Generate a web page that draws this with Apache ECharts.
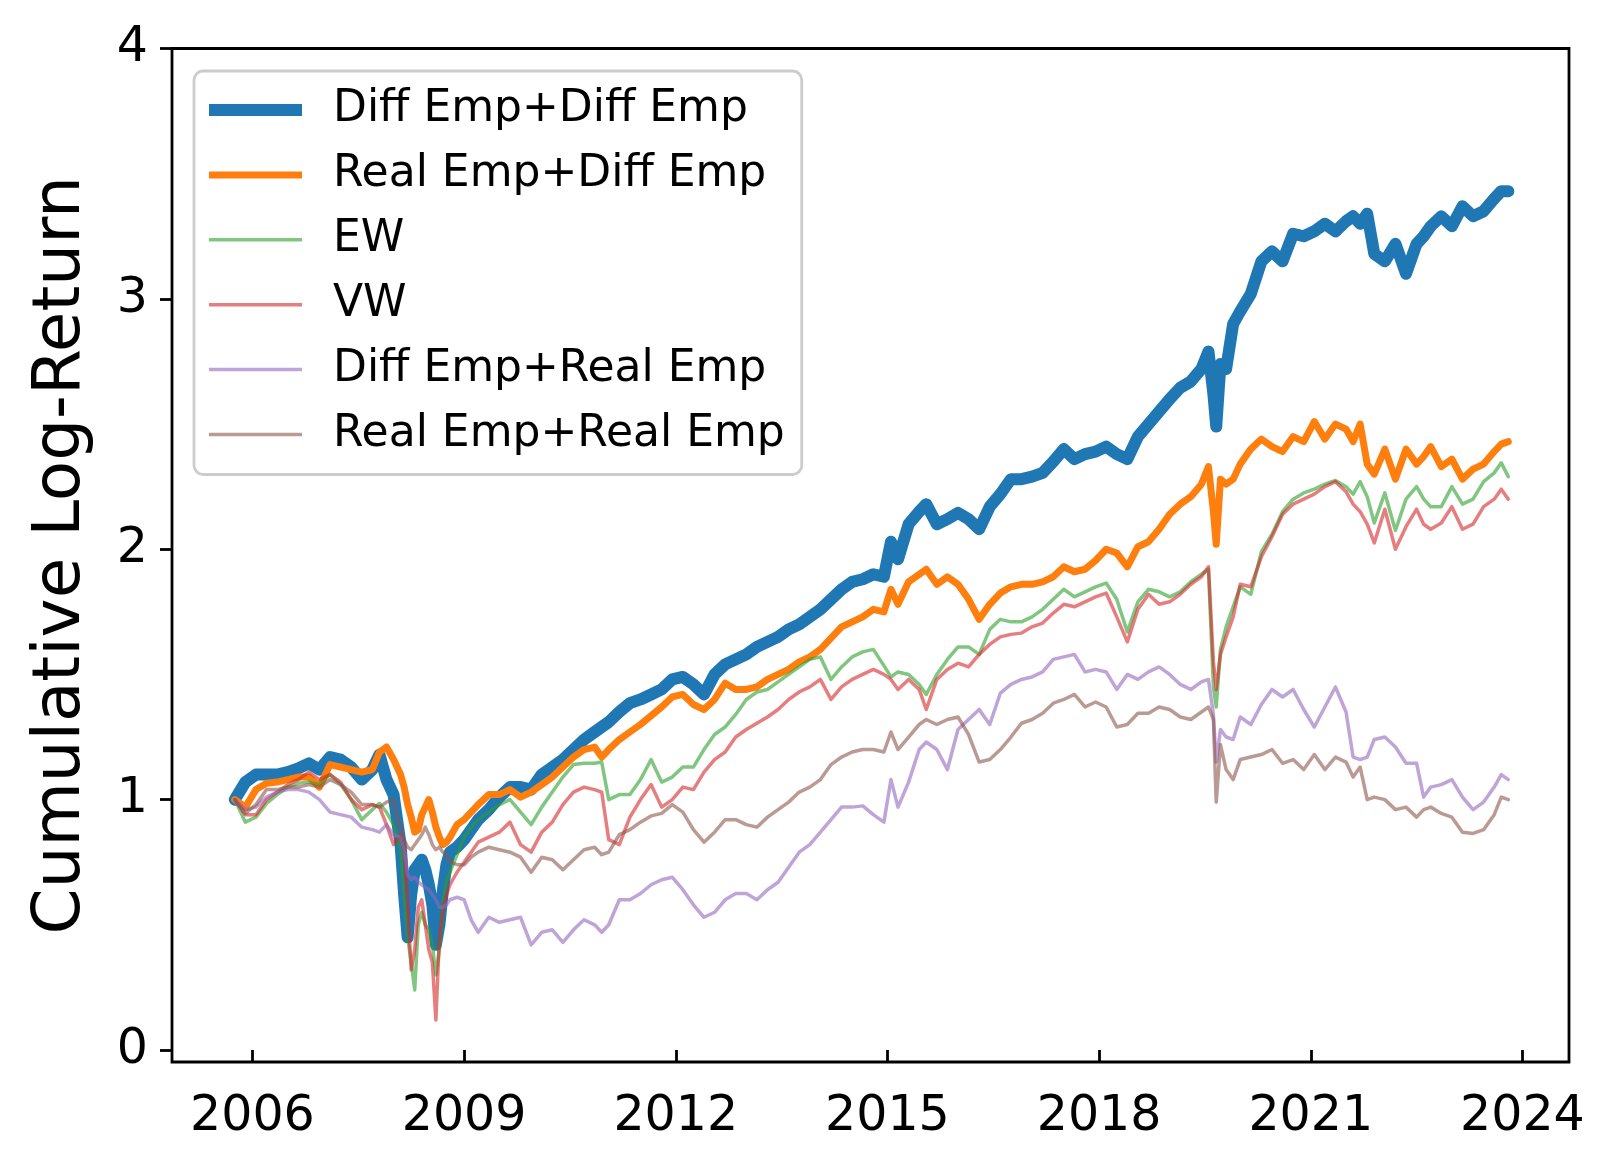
<!DOCTYPE html>
<html>
<head>
<meta charset="utf-8">
<script src="https://cdn.jsdelivr.net/npm/echarts@6/dist/echarts.min.js"></script>
<style>
html,body{margin:0;padding:0;background:#fff;}
#chart{width:1616px;height:1170px;}
</style>
</head>
<body>
<div id="chart"></div>
<script>
// Decimal-year sample dates (shared by all series)
const dates = [
  2005.75, 2005.9, 2006.05, 2006.2, 2006.35, 2006.5, 2006.65, 2006.8, 2006.95, 2007.1,
  2007.25, 2007.4, 2007.55, 2007.7, 2007.8, 2007.9, 2008.0, 2008.1, 2008.15, 2008.2,
  2008.25, 2008.3, 2008.35, 2008.4, 2008.45, 2008.5, 2008.55, 2008.6, 2008.65, 2008.7,
  2008.75, 2008.8, 2008.9, 2009.0, 2009.1, 2009.2, 2009.35, 2009.5, 2009.65, 2009.8, 2009.95,
  2010.1, 2010.25, 2010.4, 2010.55, 2010.7, 2010.85, 2010.95, 2011.05, 2011.2, 2011.35,
  2011.5, 2011.65, 2011.8, 2011.95, 2012.1, 2012.25, 2012.4, 2012.55, 2012.7, 2012.85,
  2013.0, 2013.15, 2013.3, 2013.45, 2013.6, 2013.75, 2013.9, 2014.05, 2014.2, 2014.35,
  2014.5, 2014.65, 2014.8, 2014.95,
  2015.05, 2015.15, 2015.3, 2015.45, 2015.55, 2015.7, 2015.85, 2016.0, 2016.15, 2016.3,
  2016.45, 2016.6, 2016.75, 2016.9, 2017.05, 2017.2, 2017.35, 2017.5, 2017.65, 2017.8,
  2017.95, 2018.1, 2018.25, 2018.4, 2018.55, 2018.7, 2018.85, 2019.0, 2019.15, 2019.3, 2019.45,
  2019.55, 2019.62, 2019.66, 2019.72, 2019.8, 2019.9, 2020.0, 2020.15, 2020.3, 2020.45,
  2020.6, 2020.75, 2020.9, 2021.05, 2021.2, 2021.35, 2021.5, 2021.6, 2021.7, 2021.8,
  2021.9, 2022.05, 2022.2, 2022.35, 2022.5, 2022.6, 2022.7, 2022.85, 2023.0, 2023.15,
  2023.3, 2023.45, 2023.6, 2023.7, 2023.8
];

const diffDiff = [
  1.0, 1.07, 1.10, 1.10, 1.10, 1.11, 1.125, 1.145, 1.12, 1.17, 1.16, 1.13, 1.08, 1.12, 1.18, 1.08, 1.02, 0.82, 0.62, 0.45, 0.62, 0.72, 0.74, 0.76, 0.72, 0.66, 0.58, 0.42, 0.50, 0.64, 0.74, 0.79, 0.81, 0.84, 0.88, 0.92, 0.96, 1.01, 1.05, 1.05, 1.04,
  1.10, 1.13, 1.16, 1.20, 1.24, 1.27, 1.29, 1.31, 1.35, 1.385, 1.40, 1.42, 1.44, 1.48, 1.49, 1.46, 1.42, 1.50, 1.54, 1.56, 1.58, 1.61, 1.63, 1.65, 1.68, 1.70, 1.73, 1.76, 1.80, 1.84, 1.87, 1.88, 1.90, 1.89,
  2.03, 1.96, 2.10, 2.15, 2.18, 2.10, 2.12, 2.145, 2.12, 2.08, 2.17, 2.22, 2.28, 2.28, 2.29, 2.305, 2.35, 2.40, 2.36, 2.38, 2.39, 2.41, 2.38, 2.36, 2.45, 2.50, 2.55, 2.60, 2.645, 2.67, 2.72,
  2.79, 2.62, 2.49, 2.74, 2.72, 2.90, 2.95, 3.02, 3.15, 3.19, 3.15, 3.26, 3.25, 3.27, 3.30, 3.27, 3.31, 3.33, 3.30, 3.34, 3.18, 3.15, 3.22, 3.10, 3.22, 3.25, 3.29, 3.33, 3.29, 3.37, 3.33, 3.35, 3.40, 3.43, 3.43
];

const realDiff = [
  1.0, 0.97, 1.04, 1.065, 1.07, 1.08, 1.09, 1.09, 1.05, 1.14, 1.13, 1.12, 1.11, 1.12, 1.19, 1.21, 1.16, 1.10, 1.05, 0.98, 0.93, 0.87, 0.88, 0.94, 0.97, 1.0, 0.95, 0.89, 0.85, 0.82, 0.83, 0.85, 0.90, 0.92, 0.95, 0.98, 1.02, 1.02, 1.04, 1.01, 1.03,
  1.06, 1.09, 1.13, 1.17, 1.20, 1.21, 1.17, 1.20, 1.24, 1.27, 1.30, 1.335, 1.37, 1.41, 1.42, 1.38, 1.36, 1.40, 1.465, 1.44, 1.44, 1.45, 1.48, 1.50, 1.52, 1.55, 1.57, 1.60, 1.645, 1.69, 1.71, 1.73, 1.76, 1.75,
  1.84, 1.78, 1.87, 1.90, 1.92, 1.86, 1.89, 1.86, 1.80, 1.72, 1.78, 1.825, 1.85, 1.86, 1.86, 1.87, 1.89, 1.93, 1.91, 1.92, 1.955, 2.0, 1.985, 1.93, 2.01, 2.03, 2.08, 2.14, 2.18, 2.21, 2.26,
  2.33, 2.15, 2.02, 2.28, 2.26, 2.28, 2.34, 2.40, 2.44, 2.41, 2.39, 2.45, 2.43, 2.51, 2.44, 2.50, 2.48, 2.43, 2.50, 2.34, 2.30, 2.40, 2.28, 2.40, 2.34, 2.37, 2.41, 2.33, 2.36, 2.28, 2.32, 2.34, 2.39, 2.42, 2.43
];

const ew = [
  1.0, 0.91, 0.93, 0.985, 1.02, 1.05, 1.065, 1.07, 1.06, 1.10, 1.06, 1.00, 0.92, 0.96, 0.985, 0.95, 0.90, 0.80, 0.62, 0.45, 0.35, 0.24, 0.50, 0.55, 0.50, 0.48, 0.42, 0.30, 0.40, 0.58, 0.68, 0.71, 0.78, 0.85, 0.89, 0.92, 0.95, 0.98, 1.0, 0.95, 0.90,
  0.97, 1.03, 1.09, 1.14, 1.145, 1.145, 1.15, 1.0, 1.02, 1.02, 1.08, 1.16, 1.07, 1.09, 1.13, 1.13, 1.20, 1.26, 1.29, 1.34, 1.40, 1.43, 1.44, 1.47, 1.50, 1.53, 1.56, 1.57, 1.48, 1.53, 1.57, 1.59, 1.60, 1.535,
  1.49, 1.51, 1.50, 1.46, 1.42, 1.50, 1.56, 1.61, 1.61, 1.58, 1.68, 1.72, 1.71, 1.71, 1.73, 1.76, 1.80, 1.84, 1.81, 1.83, 1.85, 1.865, 1.80, 1.67, 1.79, 1.84, 1.83, 1.81, 1.83, 1.87, 1.90,
  1.92, 1.45, 1.37, 1.60, 1.69, 1.77, 1.85, 1.82, 1.99, 2.06, 2.15, 2.20, 2.225, 2.24, 2.26, 2.275, 2.25, 2.22, 2.27, 2.21, 2.105, 2.225, 2.075, 2.20, 2.25, 2.20, 2.17, 2.17, 2.25, 2.18, 2.20, 2.27, 2.305, 2.345, 2.29
];

const vw = [
  1.0, 0.94, 0.94, 1.0, 1.03, 1.06, 1.08, 1.11, 1.08, 1.10, 1.07, 1.0, 0.96, 0.98, 0.97, 0.90, 0.82, 0.86, 0.80, 0.58, 0.32, 0.40, 0.57, 0.60, 0.50, 0.40, 0.35, 0.12, 0.45, 0.56, 0.62, 0.66, 0.71, 0.75, 0.79, 0.83, 0.85, 0.87, 0.91, 0.82, 0.79,
  0.87, 0.91, 0.98, 1.03, 1.05, 1.04, 1.03, 0.84, 0.82, 0.93, 1.0, 1.06, 0.97, 1.0, 1.05, 1.04, 1.11, 1.16, 1.19, 1.25, 1.28, 1.305, 1.33, 1.36, 1.40, 1.43, 1.45, 1.48, 1.40, 1.45, 1.48, 1.50, 1.52, 1.50,
  1.48, 1.44, 1.48, 1.44, 1.36, 1.48, 1.52, 1.545, 1.53, 1.58, 1.62, 1.65, 1.66, 1.665, 1.69, 1.705, 1.745, 1.78, 1.77, 1.79, 1.81, 1.825, 1.73, 1.63, 1.76, 1.82, 1.78, 1.79, 1.82, 1.86, 1.89,
  1.93, 1.55, 1.44, 1.58, 1.65, 1.73, 1.86, 1.85, 1.97, 2.05, 2.14, 2.18, 2.20, 2.22, 2.25, 2.27, 2.23, 2.18, 2.15, 2.10, 2.025, 2.16, 2.0, 2.09, 2.16, 2.10, 2.08, 2.105, 2.17, 2.08, 2.10, 2.17, 2.20, 2.24, 2.20
];

const diffReal = [
  1.0, 0.96, 0.97, 1.01, 1.03, 1.04, 1.04, 1.03, 1.0, 0.95, 0.94, 0.93, 0.89, 0.88, 0.87, 0.90, 0.86, 0.85, 0.80, 0.70, 0.68, 0.69, 0.67, 0.66, 0.65, 0.64, 0.62, 0.60, 0.57, 0.57, 0.58, 0.60, 0.61, 0.60, 0.52, 0.47, 0.53, 0.51, 0.52, 0.53, 0.42,
  0.47, 0.48, 0.43, 0.48, 0.52, 0.50, 0.47, 0.50, 0.60, 0.60, 0.625, 0.66, 0.68, 0.69, 0.64, 0.58, 0.53, 0.55, 0.60, 0.625, 0.625, 0.60, 0.64, 0.67, 0.73, 0.79, 0.82, 0.87, 0.92, 0.97, 0.97, 0.975, 0.94, 0.91,
  1.08, 0.97, 1.07, 1.20, 1.23, 1.20, 1.12, 1.28, 1.32, 1.36, 1.30, 1.425, 1.46, 1.48, 1.49, 1.51, 1.56, 1.57, 1.58, 1.51, 1.52, 1.51, 1.44, 1.50, 1.48, 1.51, 1.53, 1.50, 1.46, 1.44, 1.47,
  1.48, 1.34, 1.15, 1.28, 1.25, 1.24, 1.33, 1.30, 1.38, 1.44, 1.41, 1.44, 1.36, 1.29, 1.37, 1.45, 1.35, 1.17, 1.16, 1.17, 1.24, 1.25, 1.21, 1.145, 1.145, 1.01, 1.05, 1.06, 1.08, 1.01, 0.96, 0.99, 1.05, 1.10, 1.08
];

const realReal = [
  1.0, 0.945, 0.98, 1.04, 1.04, 1.05, 1.05, 1.06, 1.05, 1.08, 1.06, 1.03, 0.98, 0.98, 0.97, 0.99, 1.0, 0.88, 0.84, 0.81, 0.80, 0.82, 0.84, 0.86, 0.89, 0.86, 0.82, 0.80, 0.81, 0.79, 0.78, 0.75, 0.74, 0.74, 0.77, 0.79, 0.81, 0.80, 0.79, 0.77, 0.71,
  0.77, 0.76, 0.72, 0.76, 0.80, 0.81, 0.78, 0.79, 0.86, 0.88, 0.91, 0.935, 0.945, 0.98, 0.95, 0.88, 0.83, 0.87, 0.92, 0.92, 0.90, 0.89, 0.93, 0.96, 0.99, 1.03, 1.05, 1.08, 1.14, 1.17, 1.19, 1.20, 1.20, 1.19,
  1.27, 1.20, 1.25, 1.30, 1.32, 1.30, 1.32, 1.33, 1.26, 1.15, 1.16, 1.20, 1.25, 1.305, 1.32, 1.345, 1.385, 1.40, 1.42, 1.37, 1.39, 1.37, 1.29, 1.30, 1.345, 1.345, 1.37, 1.36, 1.33, 1.32, 1.35,
  1.37, 1.32, 0.99, 1.22, 1.12, 1.08, 1.16, 1.17, 1.18, 1.20, 1.145, 1.16, 1.12, 1.18, 1.12, 1.17, 1.15, 1.09, 1.13, 1.00, 1.01, 1.0, 0.96, 0.97, 0.93, 0.96, 0.97, 0.945, 0.93, 0.87, 0.865, 0.88, 0.94, 1.01, 1.0
];

const seriesNames = ['Diff Emp+Diff Emp', 'Real Emp+Diff Emp', 'EW', 'VW', 'Diff Emp+Real Emp', 'Real Emp+Real Emp'];
const seriesValues = [diffDiff, realDiff, ew, vw, diffReal, realReal];
const xTickValues = [2006, 2009, 2012, 2015, 2018, 2021, 2024];
const yTickValues = [0, 1, 2, 3, 4];
const yAxisTitle = 'Cumulative Log-Return';

const colors = ['#1f77b4', '#ff7f0e', '#2ca02c', '#d62728', '#9467bd', '#8c564b'];
const widths = [12, 7, 3.5, 3.5, 3.5, 3.5];
const alphas = [1, 1, 0.6, 0.6, 0.6, 0.6];
const FONT = 'DejaVu Sans';

const chart = echarts.init(document.getElementById('chart'), null, {renderer: 'canvas'});

const series = seriesNames.map((name, k) => ({
  name: name,
  type: 'line',
  data: dates.map((d, i) => [d, seriesValues[k][i]]),
  symbol: 'none',
  showSymbol: false,
  smooth: false,
  lineStyle: {color: colors[k], width: widths[k], opacity: alphas[k], join: 'round', cap: 'round'},
  itemStyle: {color: colors[k]},
  emphasis: {disabled: true},
  z: 2 + k
}));

chart.setOption({
  animation: false,
  backgroundColor: '#ffffff',
  grid: {
    left: 172, top: 48.5, right: 47, bottom: 108,
    show: true, borderColor: '#000', borderWidth: 2.8, backgroundColor: 'transparent'
  },
  xAxis: {
    type: 'value',
    min: 2004.86, max: 2024.66,
    splitLine: {show: false},
    axisLine: {show: false},
    axisTick: {show: true, length: 12, lineStyle: {color: '#000', width: 2.8}, customValues: xTickValues},
    axisLabel: {
      show: true, margin: 31, color: '#000', fontFamily: FONT, fontSize: 49,
      customValues: xTickValues,
      formatter: v => String(Math.round(v))
    }
  },
  yAxis: {
    type: 'value',
    min: -0.048, max: 4,
    name: yAxisTitle,
    nameLocation: 'middle',
    nameRotate: 90,
    nameGap: 77,
    nameTextStyle: {color: '#000', fontFamily: FONT, fontSize: 66},
    splitLine: {show: false},
    axisLine: {show: false},
    axisTick: {show: true, length: 12, lineStyle: {color: '#000', width: 2.8}, customValues: yTickValues},
    axisLabel: {
      show: true, margin: 24, color: '#000', fontFamily: FONT, fontSize: 49,
      customValues: yTickValues,
      formatter: v => String(Math.round(v))
    }
  },
  legend: {
    show: true,
    orient: 'vertical',
    left: 194, top: 71,
    itemWidth: 93, itemHeight: 14, itemGap: 20.9,
    padding: [17, 17, 18, 9],
    backgroundColor: 'rgba(255,255,255,0.8)',
    borderColor: '#cccccc', borderWidth: 2.8, borderRadius: 9,
    selectedMode: false,
    itemStyle: {opacity: 0},
    textStyle: {fontFamily: FONT, fontSize: 44, lineHeight: 44, color: '#000', padding: [0, 0, 0, 26]},
    data: seriesNames.map((n, k) => ({
      name: n,
      lineStyle: {color: colors[k], width: widths[k], opacity: alphas[k], cap: 'butt'}
    }))
  },
  tooltip: {show: false},
  series: series
});
</script>
</body>
</html>
